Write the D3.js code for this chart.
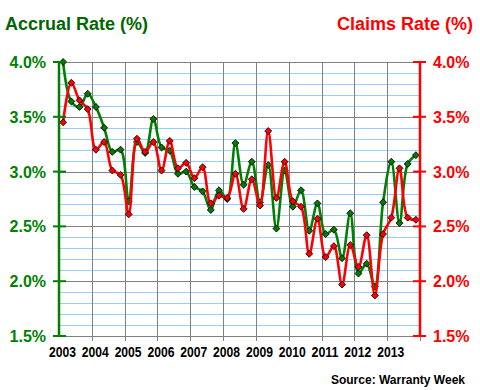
<!DOCTYPE html>
<html><head><meta charset="utf-8">
<script src="https://cdn.jsdelivr.net/npm/d3@7"></script>
<style>
html,body{margin:0;padding:0;background:#fff;}
svg{display:block;font-family:"Liberation Sans",Arial,sans-serif;}
</style></head>
<body><svg id="c" width="480" height="390"></svg>
<script>
const years = [2003,2004,2005,2006,2007,2008,2009,2010,2011,2012,2013];
const yTicks = [1.5,2.0,2.5,3.0,3.5,4.0];
const accrual = [4.00,3.64,3.59,3.71, 3.59,3.40,3.18,3.20, 2.73,3.27,3.17,3.48, 3.22,3.19,2.98,3.00,
  2.86,2.82,2.65,2.83, 2.75,3.26,2.88,3.09, 2.72,3.06,2.48,3.01, 2.68,2.83,2.46,2.71,
  2.43,2.47,2.21,2.62, 2.07,2.16,1.95,2.72, 3.09,2.53,3.07,3.15];
const claims = [3.45,3.81,3.65,3.57, 3.20,3.27,3.01,2.97, 2.61,3.30,3.18,3.27, 3.01,3.28,3.03,3.08,
  2.94,3.04,2.71,2.78, 2.76,2.98,2.66,2.93, 2.69,3.37,2.76,3.09, 2.73,2.68,2.25,2.57,
  2.22,2.32,1.97,2.33, 2.13,2.42,1.87,2.43, 2.58,3.03,2.58,2.56];

const svg = d3.select("#c");
const x = d3.scaleLinear().domain([2003, 2014]).range([59, 420]);
const y = d3.scaleLinear().domain([1.5, 4.0]).range([336, 62]);
const xq = i => x(2003 + (i + 0.5) / 4);

// minor gridlines
const minor = d3.range(15, 41).map(v => v / 10).filter(v => Math.abs(v * 2 - Math.round(v * 2)) > 1e-6);
svg.append("g").selectAll("line").data(minor).join("line")
  .attr("x1", x(2003)).attr("x2", x(2014))
  .attr("y1", d => Math.round(y(d)) + 0.5).attr("y2", d => Math.round(y(d)) + 0.5)
  .attr("stroke", "#99ccff").attr("stroke-width", 1);
// major gridlines
svg.append("g").selectAll("line").data(yTicks).join("line")
  .attr("x1", x(2003)).attr("x2", x(2014))
  .attr("y1", d => Math.round(y(d)) + 0.5).attr("y2", d => Math.round(y(d)) + 0.5)
  .attr("stroke", "#808080").attr("stroke-width", 1);
// vertical gridlines
svg.append("g").selectAll("line").data(years.slice(1)).join("line")
  .attr("x1", d => Math.round(x(d)) + 0.5).attr("x2", d => Math.round(x(d)) + 0.5)
  .attr("y1", y(4.0)).attr("y2", y(1.5) + 5)
  .attr("stroke", "#808080").attr("stroke-width", 1);
svg.append("line").attr("x1", Math.round(x(2014)) + 0.5).attr("x2", Math.round(x(2014)) + 0.5)
  .attr("y1", y(1.5)).attr("y2", y(1.5) + 5).attr("stroke", "#808080");

// bottom axis labels
svg.append("g").selectAll("text").data(years).join("text")
  .attr("x", d => x(d) + 3.5).attr("y", 357)
  .attr("text-anchor", "middle").attr("font-size", 14).attr("font-weight", "bold")
  .attr("textLength", 27).attr("lengthAdjust", "spacingAndGlyphs")
  .attr("fill", "#000").text(d => d);

// lines
const line = data => d3.line().x((d, i) => xq(i)).y(d => y(d)).curve(d3.curveCatmullRom.alpha(0.5))(data);
const marker = d3.symbol(d3.symbolSquare, 24);

function drawSeries(data, col, fill) {
  const g = svg.append("g");
  g.append("path").attr("d", line(data)).attr("fill", "none").attr("stroke", col).attr("stroke-width", 2.6);
  g.selectAll("path.m").data(data).join("path").attr("class", "m")
    .attr("d", marker)
    .attr("transform", (d, i) => `translate(${xq(i)},${y(d)}) rotate(45)`)
    .attr("fill", fill).attr("stroke", "#000").attr("stroke-width", 0.8);
}
drawSeries(accrual, "#008000", "#007a00");
drawSeries(claims, "#ff0000", "#ff0000");

// left axis
const fmt = d => d.toFixed(1) + "%";
const la = svg.append("g");
la.append("line").attr("x1", x(2003)).attr("x2", x(2003)).attr("y1", y(4.0) - 1).attr("y2", y(1.5) + 1)
  .attr("stroke", "#008000").attr("stroke-width", 2.5);
la.selectAll("line.t").data(yTicks).join("line").attr("class", "t")
  .attr("x1", x(2003) - 6).attr("x2", x(2003) + 7).attr("y1", d => y(d)).attr("y2", d => y(d))
  .attr("stroke", "#008000").attr("stroke-width", 2);
la.selectAll("text").data(yTicks).join("text")
  .attr("x", x(2003) - 13).attr("y", d => y(d) + 6).attr("text-anchor", "end")
  .attr("font-size", 16).attr("font-weight", "bold").attr("fill", "#008000").text(fmt);

// right axis
const ra = svg.append("g");
ra.append("line").attr("x1", x(2014)).attr("x2", x(2014)).attr("y1", y(4.0) - 1).attr("y2", y(1.5) + 1)
  .attr("stroke", "#ff0000").attr("stroke-width", 2.5);
ra.selectAll("line.t").data(yTicks).join("line").attr("class", "t")
  .attr("x1", x(2014) - 7).attr("x2", x(2014) + 6).attr("y1", d => y(d)).attr("y2", d => y(d))
  .attr("stroke", "#ff0000").attr("stroke-width", 2);
ra.selectAll("text").data(yTicks).join("text")
  .attr("x", x(2014) + 13).attr("y", d => y(d) + 6).attr("text-anchor", "start")
  .attr("font-size", 16).attr("font-weight", "bold").attr("fill", "#ff0000").text(fmt);

// titles
svg.append("text").attr("x", 5).attr("y", 30).attr("font-size", 18).attr("font-weight", "bold")
  .attr("fill", "#006600").text("Accrual Rate (%)");
svg.append("text").attr("x", 473).attr("y", 30).attr("text-anchor", "end").attr("font-size", 18).attr("font-weight", "bold")
  .attr("fill", "#ff0000").text("Claims Rate (%)");
svg.append("text").attr("x", 465).attr("y", 384).attr("text-anchor", "end").attr("font-size", 12).attr("font-weight", "bold")
  .attr("fill", "#000").text("Source: Warranty Week");
</script></body></html>
